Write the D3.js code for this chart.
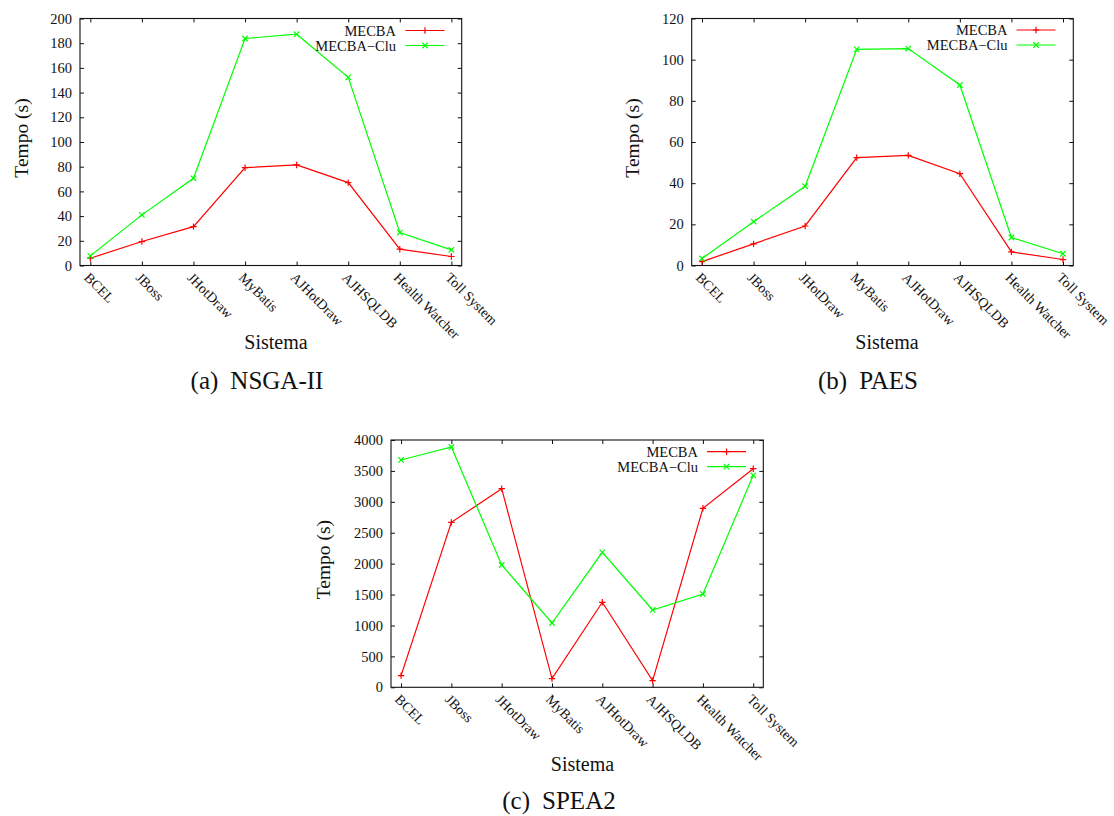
<!DOCTYPE html>
<html>
<head>
<meta charset="utf-8">
<script src="https://cdn.jsdelivr.net/npm/d3@7"></script>
<style>
  html, body { margin: 0; padding: 0; background: #fff; }
  svg { display: block; }
  text { font-family: "Liberation Serif", "Tinos", "Times New Roman", "DejaVu Serif", serif; fill: #111; }
</style>
</head>
<body>
<svg id="fig" width="1114" height="816"></svg>
<script>
// Systems on the x axis
const sistemas = ["BCEL", "JBoss", "JHotDraw", "MyBatis", "AJHotDraw", "AJHSQLDB", "Health Watcher", "Toll System"];
const seriesNames = ["MECBA", "MECBA\u2212Clu"];

// Execution time (s) per system
const nsga2Mecba = [5.9, 19.4, 31.5, 79.2, 81.4, 67.1, 13.2, 7.3];
const nsga2Clu   = [7.8, 41.0, 70.6, 183.8, 187.3, 152.3, 26.7, 12.7];
const paesMecba  = [1.9, 10.5, 19.2, 52.4, 53.5, 44.6, 6.6, 2.9];
const paesClu    = [3.4, 21.3, 38.5, 105.0, 105.4, 87.7, 13.6, 5.7];
const spea2Mecba = [189, 2668, 3213, 140, 1375, 108, 2895, 3536];
const spea2Clu   = [3677, 3887, 1978, 1040, 2183, 1251, 1509, 3429];

// Y tick values
const nsga2Ticks = [0, 20, 40, 60, 80, 100, 120, 140, 160, 180, 200];
const paesTicks  = [0, 20, 40, 60, 80, 100, 120];
const spea2Ticks = [0, 500, 1000, 1500, 2000, 2500, 3000, 3500, 4000];

const captions = ["(a)", "NSGA-II", "(b)", "PAES", "(c)", "SPEA2"];

const FONT = "'Liberation Serif', 'Tinos', 'Times New Roman', 'DejaVu Serif', serif";
const colors = ["#ff0000", "#00ff00"];
const svg = d3.select("#fig");

function drawPanel(p) {
  const g = svg.append("g").attr("font-family", FONT);
  const x = d3.scaleLinear().domain([-0.2, sistemas.length - 1 + 0.2]).range([p.left, p.right]);
  const y = d3.scaleLinear().domain([0, p.ymax]).range([p.bottom, p.top]);
  const tl = 4;

  // y ticks (left and mirrored right), drawn inward
  const yAxisL = d3.axisLeft(y).tickValues(p.ticks).tickFormat(d3.format("d"))
    .tickSizeInner(-tl).tickSizeOuter(0).tickPadding(8);
  const gl = g.append("g").attr("transform", `translate(${p.left},0)`).call(yAxisL);
  const yAxisR = d3.axisRight(y).tickValues(p.ticks).tickSizeInner(-tl).tickSizeOuter(0).tickFormat("");
  const gr = g.append("g").attr("transform", `translate(${p.right},0)`).call(yAxisR);

  // x ticks (bottom and mirrored top)
  const idx = d3.range(sistemas.length);
  const xAxisB = d3.axisBottom(x).tickValues(idx).tickSizeInner(-tl).tickSizeOuter(0).tickFormat("");
  const gb = g.append("g").attr("transform", `translate(0,${p.bottom})`).call(xAxisB);
  const xAxisT = d3.axisTop(x).tickValues(idx).tickSizeInner(-tl).tickSizeOuter(0).tickFormat("");
  const gt = g.append("g").attr("transform", `translate(0,${p.top})`).call(xAxisT);

  [gl, gr, gb, gt].forEach(a => {
    a.attr("font-family", FONT);
    a.select(".domain").remove();
    a.selectAll(".tick line").attr("stroke", "#111").attr("stroke-width", 1);
  });
  gl.selectAll(".tick text")
    .attr("font-family", FONT)
    .attr("font-size", 14.5)
    .attr("fill", "#111");

  // rotated category labels
  g.append("g").selectAll("text").data(sistemas).join("text")
    .attr("transform", (d, i) => `translate(${x(i) - 7},${p.bottom + 13}) rotate(45)`)
    .attr("font-family", FONT)
    .attr("font-size", 14)
    .attr("text-anchor", "start")
    .text(d => d);

  // frame
  g.append("rect")
    .attr("x", p.left).attr("y", p.top)
    .attr("width", p.right - p.left).attr("height", p.bottom - p.top)
    .attr("fill", "none").attr("stroke", "#111").attr("stroke-width", 1.1);

  // axis titles
  g.append("text")
    .attr("transform", `translate(${p.ylabX},${(p.top + p.bottom) / 2 - 4}) rotate(-90)`)
    .attr("text-anchor", "middle").attr("dy", "0.35em")
    .attr("font-family", FONT)
    .attr("font-size", 19.5)
    .text("Tempo (s)");
  g.append("text")
    .attr("x", p.xlabX).attr("y", p.xlabY)
    .attr("text-anchor", "middle")
    .attr("font-family", FONT)
    .attr("font-size", 20)
    .text("Sistema");

  // series
  const line = d3.line().x((d, i) => x(i)).y(d => y(d));
  const m = 3.2;
  p.series.forEach((vals, s) => {
    g.append("path").datum(vals)
      .attr("d", line)
      .attr("fill", "none")
      .attr("stroke", colors[s]).attr("stroke-width", 1.2);
    g.append("g").selectAll("path").data(vals).join("path")
      .attr("d", (d, i) => markerPath(s, x(i), y(d), m))
      .attr("stroke", colors[s]).attr("stroke-width", 1.2).attr("fill", "none");
  });

  // legend
  seriesNames.forEach((name, s) => {
    const ly = p.legY + s * 15;
    g.append("text")
      .attr("x", p.legTextX).attr("y", ly).attr("dy", "0.35em")
      .attr("text-anchor", "end").attr("font-size", 14.5)
      .attr("font-family", FONT)
      .text(name);
    g.append("line")
      .attr("x1", p.legLineX).attr("x2", p.legLineX + 39)
      .attr("y1", ly).attr("y2", ly)
      .attr("stroke", colors[s]).attr("stroke-width", 1.2);
    g.append("path")
      .attr("d", markerPath(s, p.legLineX + 19.5, ly, m))
      .attr("stroke", colors[s]).attr("stroke-width", 1.2).attr("fill", "none");
  });

  // caption
  const cap = g.append("text")
    .attr("x", p.capX).attr("y", p.capY)
    .attr("text-anchor", "middle")
    .attr("font-family", FONT)
    .attr("font-size", 25);
  cap.append("tspan").text(p.caption[0]);
  cap.append("tspan").attr("dx", 12).text(p.caption[1]);
}

function markerPath(s, cx, cy, r) {
  if (s === 0) {
    return `M${cx - r},${cy}H${cx + r}M${cx},${cy - r}V${cy + r}`;
  }
  const q = r * 0.85;
  return `M${cx - q},${cy - q}L${cx + q},${cy + q}M${cx - q},${cy + q}L${cx + q},${cy - q}`;
}

drawPanel({
  left: 80, right: 461.7, top: 18.5, bottom: 265.5,
  ymax: 200, ticks: nsga2Ticks, series: [nsga2Mecba, nsga2Clu],
  ylabX: 21, xlabX: 276, xlabY: 349,
  legTextX: 396, legLineX: 405.5, legY: 30.5,
  capX: 257, capY: 389, caption: [captions[0], captions[1]]
});
drawPanel({
  left: 691.7, right: 1073.3, top: 18.5, bottom: 265.5,
  ymax: 120, ticks: paesTicks, series: [paesMecba, paesClu],
  ylabX: 632, xlabX: 887, xlabY: 349,
  legTextX: 1007.5, legLineX: 1016.5, legY: 30,
  capX: 868, capY: 389, caption: [captions[2], captions[3]]
});
drawPanel({
  left: 391, right: 763.3, top: 440, bottom: 687.3,
  ymax: 4000, ticks: spea2Ticks, series: [spea2Mecba, spea2Clu],
  ylabX: 323, xlabX: 582.5, xlabY: 771,
  legTextX: 698, legLineX: 707, legY: 451.7,
  capX: 559, capY: 809, caption: [captions[4], captions[5]]
});
</script>
</body>
</html>
